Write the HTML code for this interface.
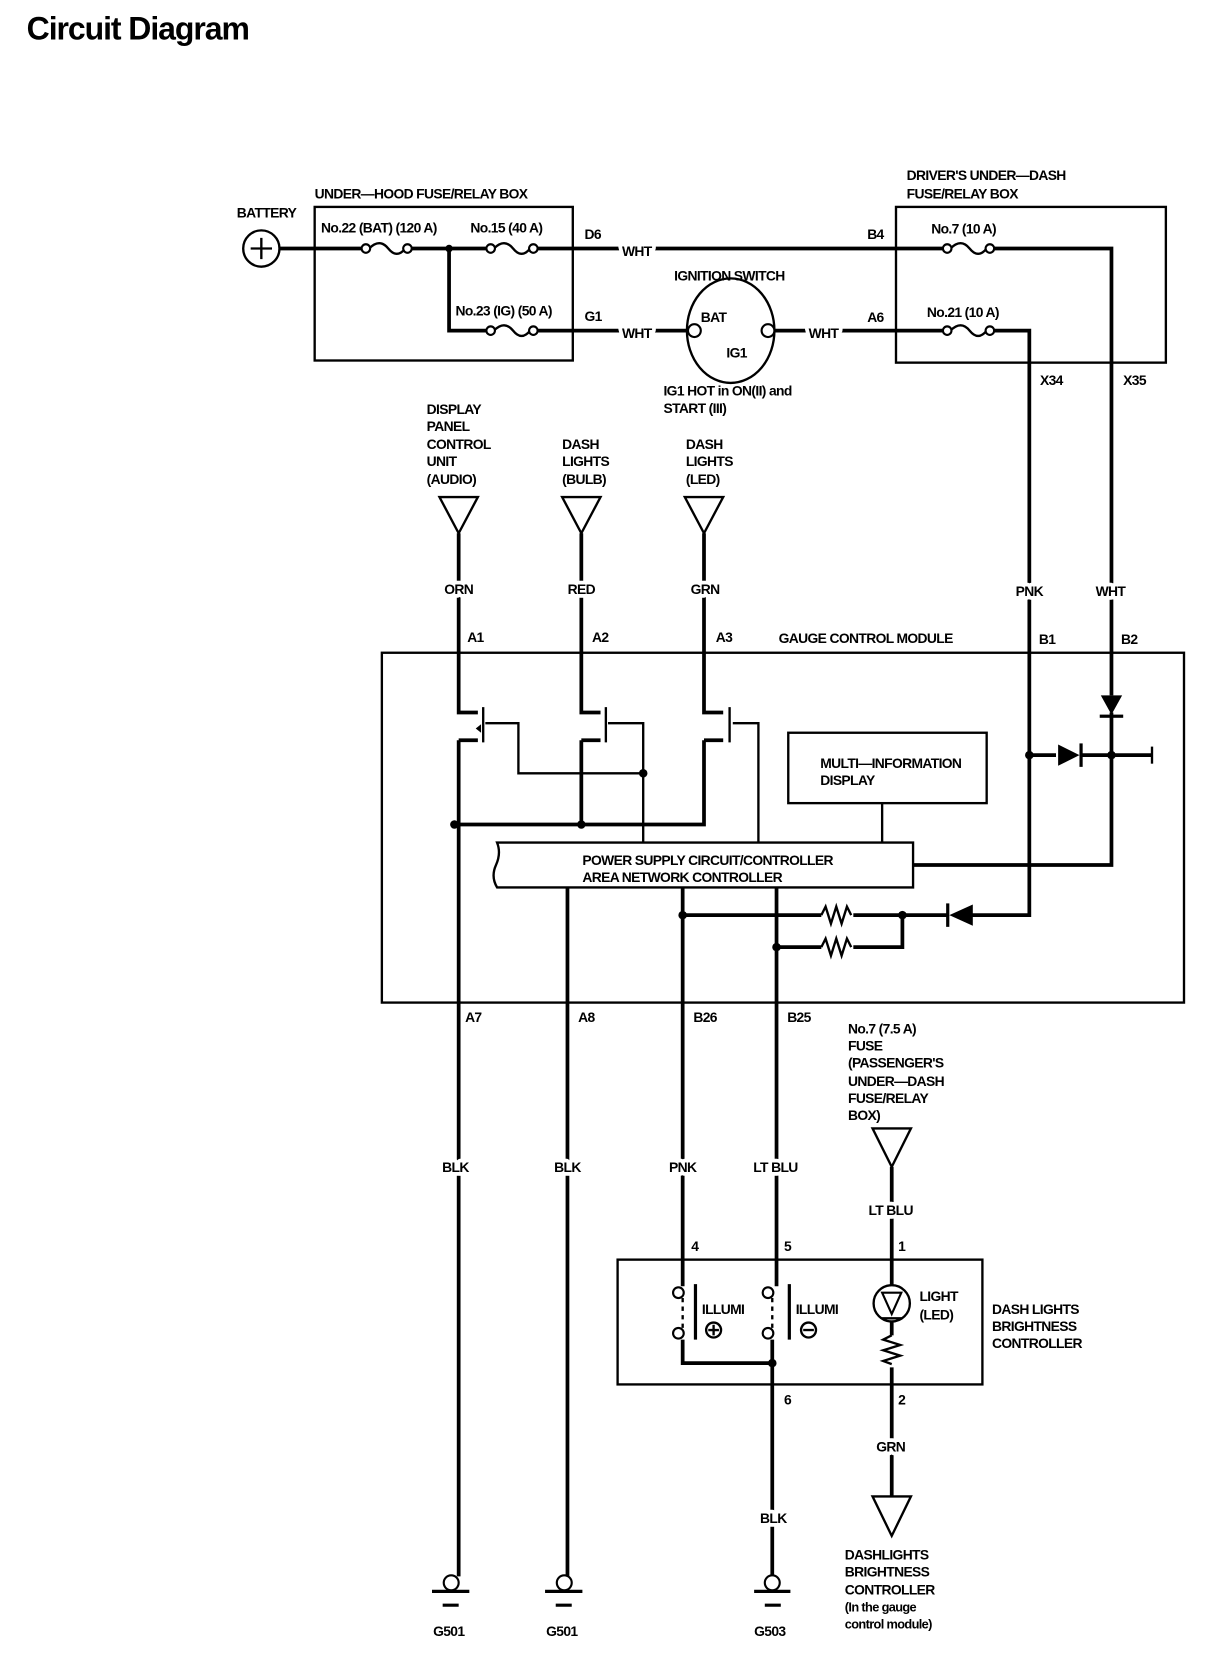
<!DOCTYPE html>
<html><head><meta charset="utf-8"><style>
html,body{margin:0;padding:0;background:#fff;}
svg{display:block;}
text{font-family:"Liberation Sans",sans-serif;font-weight:bold;font-size:13px;fill:#000;letter-spacing:-0.6px;}
text.w{text-anchor:middle;stroke:#fff;stroke-width:7px;paint-order:stroke;stroke-linejoin:round;}
</style></head><body>
<svg width="1216" height="1666" viewBox="0 0 1140 1562" preserveAspectRatio="none" xmlns="http://www.w3.org/2000/svg">
<g fill="none" stroke="#000" stroke-width="2.2">
<rect x="295" y="194" width="242" height="144"/>
<rect x="840" y="194" width="253" height="146"/>
<rect x="358" y="612" width="752" height="328"/>
<rect x="739" y="687" width="186" height="66"/>
<path d="M466 790 H856 V832 H466 Q460 822 465 811 Q470 800 466 790 Z"/>
<rect x="579" y="1181" width="342" height="117"/>
</g>
<g fill="none" stroke="#000" stroke-width="3.5">
<path d="M262 233 H340 M385 233 H457 M503 233 H885 M932 233 H1042 V652"/>
<path d="M421 233 V310 H457 M503 310 H644 M727 310 H885 M932 310 H965 V858 H910"/>
<path d="M430 500 V668 H448 M430 694 H448 M430 694 V1478"/>
<path d="M545 500 V668 H563 M545 694 H563 M545 694 V773"/>
<path d="M660 500 V668 H678 M660 694 H678 M660 694 V773 H426"/>
<path d="M1042 668 V811 H856"/>
<path d="M965 708 H990 M1014 708 H1080"/>
<path d="M888 858 H846 V888 H800 M770 888 H728 M846 858 H800 M770 858 H640"/>
<path d="M640 832 V1206 M728 832 V1206 M532 832 V1478"/>
<path d="M836 1094 V1205 M836 1238 V1252 M836 1282 V1403"/>
<path d="M640 1256 V1278 H724 M724 1256 V1478"/>
</g>
<g fill="none" stroke="#000" stroke-width="2.2">
<path d="M455 678 H486 V725 H603 V790"/>
<path d="M570 678 H603 V725"/>
<path d="M687 678 H711 V790"/>
<path d="M827 753 V790"/>
<path d="M453 663 V696 M568 663 V696 M684 663 V696"/>
<path d="M1080 700 V716"/>
<path d="M346 233 Q356 223 364 233 Q372 243 380 233"/>
<path d="M463 233 Q473 223 481 233 Q489 243 497 233"/>
<path d="M463 310 Q473 300 481 310 Q489 320 497 310"/>
<path d="M891 233 Q901 223 909 233 Q917 243 925 233"/>
<path d="M891 310 Q901 300 909 310 Q917 320 925 310"/>
<circle cx="245" cy="233" r="17"/>
<path d="M235 233 H255 M245 223 V243"/>
<ellipse cx="685" cy="310" rx="41" ry="49"/>
<path d="M412 466 H448 L430 500 Z M527 466 H563 L545 500 Z M642 466 H678 L660 500 Z M818 1058 H854 L836 1094 Z M818 1403 H854 L836 1440 Z"/>
<path d="M770 858 l4 -8 l5 16 l5 -16 l5 16 l5 -16 l4 8 M770 888 l4 -8 l5 16 l5 -16 l5 16 l5 -16 l4 8"/>
<path d="M836 1252 l-8 4 l16 5 l-16 5 l16 5 l-16 5 l8 3"/>
<circle cx="836" cy="1222" r="17"/>
<path d="M826 1236 H846"/>
<path d="M640 1217 V1246 M724 1217 V1246" stroke-dasharray="4 4"/>
<path d="M652 1204 V1256 M740 1204 V1256" stroke-width="3"/>
<circle cx="669" cy="1247" r="7"/><path d="M664 1247 H674 M669 1242 V1252"/>
<circle cx="758" cy="1247" r="7"/><path d="M753 1247 H763"/>
<path d="M405 1492 H440 M415 1505 H430 M511 1492 H546 M521 1505 H536 M707 1492 H741 M717 1505 H732" stroke-width="3"/>
</g>
<g fill="#fff" stroke="#000" stroke-width="2">
<circle cx="343" cy="233" r="4"/><circle cx="382" cy="233" r="4"/>
<circle cx="460" cy="233" r="4"/><circle cx="500" cy="233" r="4"/>
<circle cx="460" cy="310" r="4"/><circle cx="500" cy="310" r="4"/>
<circle cx="888" cy="233" r="4"/><circle cx="928" cy="233" r="4"/>
<circle cx="888" cy="310" r="4"/><circle cx="928" cy="310" r="4"/>
<circle cx="651" cy="310" r="6"/><circle cx="720" cy="310" r="6"/>
<circle cx="636" cy="1212" r="5"/><circle cx="636" cy="1250" r="5"/>
<circle cx="720" cy="1212" r="5"/><circle cx="720" cy="1250" r="5"/>
<circle cx="423" cy="1484" r="7"/><circle cx="529" cy="1484" r="7"/><circle cx="724" cy="1484" r="7"/>
</g>
<g fill="#000">
<circle cx="421" cy="233" r="3.5"/>
<circle cx="426" cy="773" r="4"/><circle cx="545" cy="773" r="4"/><circle cx="603" cy="725" r="4"/>
<circle cx="965" cy="708" r="4"/><circle cx="1042" cy="708" r="4"/>
<circle cx="846" cy="858" r="4"/><circle cx="640" cy="858" r="4"/><circle cx="728" cy="888" r="4"/>
<circle cx="724" cy="1278" r="4"/>
<path d="M1032 652 H1052 L1042 670 Z"/><rect x="1031" y="670" width="22" height="3"/>
<path d="M992 698 V718 L1012 708 Z"/><rect x="1012" y="697" width="3" height="22"/>
<path d="M912 848 V868 L890 858 Z"/><rect x="887" y="847" width="3" height="22"/>
<path d="M827 1212 H845 L836 1232 Z" fill="none" stroke="#000" stroke-width="2"/>
<path d="M459 683 h-8 v-4 l-5 4 l5 4 v-4 M574 683 h-8 M690 683 h-8"/>
</g>
<text x="25" y="37" style="font-size:30px;letter-spacing:-1px">Circuit Diagram</text>
<text x="295" y="186">UNDER—HOOD FUSE/RELAY BOX</text>
<text x="222" y="204">BATTERY</text>
<text x="301" y="218">No.22 (BAT) (120 A)</text>
<text x="441" y="218">No.15 (40 A)</text>
<text x="427" y="296">No.23 (IG) (50 A)</text>
<text x="548" y="224">D6</text>
<text x="548" y="301">G1</text>
<text class="w" x="597" y="240">WHT</text>
<text class="w" x="597" y="317">WHT</text>
<text class="w" x="772" y="317">WHT</text>
<text x="632" y="263">IGNITION SWITCH</text>
<text x="657" y="302">BAT</text>
<text x="681" y="335">IG1</text>
<text x="622" y="371">IG1 HOT in ON(II) and</text>
<text x="622" y="387">START (III)</text>
<text x="850" y="169">DRIVER'S UNDER—DASH</text>
<text x="850" y="186">FUSE/RELAY BOX</text>
<text x="873" y="219">No.7 (10 A)</text>
<text x="869" y="297">No.21 (10 A)</text>
<text x="813" y="224">B4</text>
<text x="813" y="302">A6</text>
<text x="975" y="361">X34</text>
<text x="1053" y="361">X35</text>
<text x="400" y="388">DISPLAY</text><text x="400" y="404">PANEL</text><text x="400" y="421">CONTROL</text><text x="400" y="437">UNIT</text><text x="400" y="454">(AUDIO)</text>
<text x="527" y="421">DASH</text><text x="527" y="437">LIGHTS</text><text x="527" y="454">(BULB)</text>
<text x="643" y="421">DASH</text><text x="643" y="437">LIGHTS</text><text x="643" y="454">(LED)</text>
<text class="w" x="430" y="557">ORN</text><text class="w" x="545" y="557">RED</text><text class="w" x="661" y="557">GRN</text>
<text class="w" x="965" y="559">PNK</text><text class="w" x="1041" y="559">WHT</text>
<text x="438" y="602">A1</text><text x="555" y="602">A2</text><text x="671" y="602">A3</text>
<text x="730" y="603">GAUGE CONTROL MODULE</text>
<text x="974" y="604">B1</text><text x="1051" y="604">B2</text>
<text x="769" y="720">MULTI—INFORMATION</text><text x="769" y="736">DISPLAY</text>
<text x="546" y="811">POWER SUPPLY CIRCUIT/CONTROLLER</text>
<text x="546" y="827">AREA NETWORK CONTROLLER</text>
<text x="436" y="958">A7</text><text x="542" y="958">A8</text><text x="650" y="958">B26</text><text x="738" y="958">B25</text>
<text x="795" y="969">No.7 (7.5 A)</text><text x="795" y="985">FUSE</text><text x="795" y="1001">(PASSENGER'S</text><text x="795" y="1018">UNDER—DASH</text><text x="795" y="1034">FUSE/RELAY</text><text x="795" y="1050">BOX)</text>
<text class="w" x="427" y="1099">BLK</text><text class="w" x="532" y="1099">BLK</text><text class="w" x="640" y="1099">PNK</text><text class="w" x="727" y="1099">LT BLU</text>
<text class="w" x="835" y="1139">LT BLU</text>
<text x="648" y="1173">4</text><text x="735" y="1173">5</text><text x="842" y="1173">1</text>
<text x="658" y="1232">ILLUMI</text><text x="746" y="1232">ILLUMI</text>
<text x="862" y="1220">LIGHT</text><text x="862" y="1237">(LED)</text>
<text x="930" y="1232">DASH LIGHTS</text><text x="930" y="1248">BRIGHTNESS</text><text x="930" y="1264">CONTROLLER</text>
<text x="735" y="1317">6</text><text x="842" y="1317">2</text>
<text class="w" x="835" y="1361">GRN</text>
<text class="w" x="725" y="1428">BLK</text>
<text x="792" y="1462">DASHLIGHTS</text><text x="792" y="1478">BRIGHTNESS</text><text x="792" y="1495">CONTROLLER</text><text x="792" y="1511" style="font-size:12px">(In the gauge</text><text x="792" y="1527" style="font-size:12px">control module)</text>
<text x="406" y="1534">G501</text><text x="512" y="1534">G501</text><text x="707" y="1534">G503</text>
</svg>
</body></html>
